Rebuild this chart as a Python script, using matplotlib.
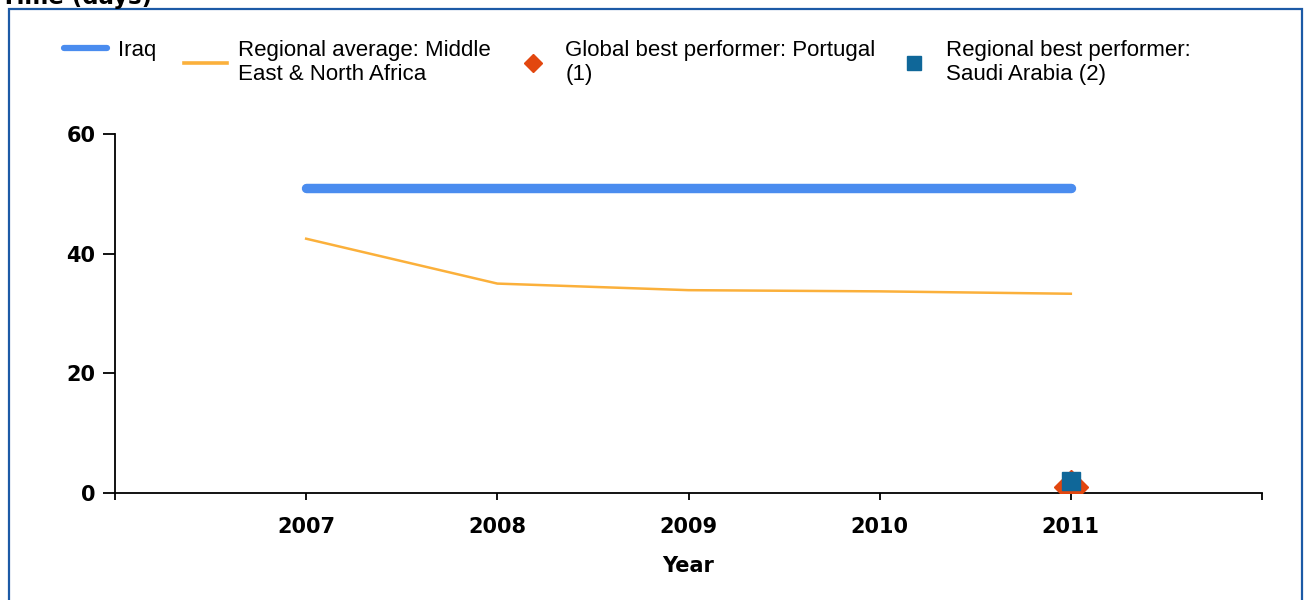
import matplotlib
matplotlib.use("Agg")
import matplotlib.pyplot as plt
from matplotlib.patches import Rectangle

years = [2007, 2008, 2009, 2010, 2011]
iraq = [51, 51, 51, 51, 51]
regional_avg = [42.5, 35.0, 33.9, 33.7, 33.3]
global_best_year = [2011]
global_best = [1]
regional_best_year = [2011]
regional_best = [2]

labels = ["Iraq",
          "Regional average: Middle\nEast & North Africa",
          "Global best performer: Portugal\n(1)",
          "Regional best performer:\nSaudi Arabia (2)"]
xtick_vals = [2006, 2007, 2008, 2009, 2010, 2011, 2012]
xtick_labels = ["", "2007", "2008", "2009", "2010", "2011", ""]
ytick_vals = [0, 20, 40, 60]

W, H = 1304, 600
fig = plt.figure(figsize=(W / 100, H / 100), dpi=100)
ax = fig.add_axes([115 / W, 107 / H, 1147 / W, 359 / H])

tick_font = dict(family="DejaVu Sans", weight="bold", size=15)

l1, = ax.plot(years, iraq, color="#4a8cef", lw=6.8, solid_capstyle="round", zorder=3)
l2, = ax.plot(years, regional_avg, color="#fbb03b", lw=1.8, zorder=3)
l3, = ax.plot(global_best_year, global_best, linestyle="none", marker="D",
              color="#e2470f", markersize=17, zorder=4)
l4, = ax.plot(regional_best_year, regional_best, linestyle="none", marker="s",
              color="#0f6799", markersize=13.5, zorder=5)

ax.set_xlim(2006, 2012)
ax.set_ylim(0, 60)
ax.set_xticks(xtick_vals)
ax.set_xticklabels(xtick_labels, **tick_font)
ax.set_yticks(ytick_vals)
ax.set_yticklabels([str(v) for v in ytick_vals], **tick_font)
ax.tick_params(axis="y", direction="out", length=9, width=1.3, pad=5)
ax.tick_params(axis="x", direction="out", length=5, width=1.3, pad=12)
for s in ["top", "right"]:
    ax.spines[s].set_visible(False)
for s in ["left", "bottom"]:
    ax.spines[s].set_linewidth(1.3)
ax.set_xlabel("Year", fontdict=tick_font, labelpad=14)

# legends, one per entry
leg_x = [64, 184, 511, 892]
handles = [l1, l2, l3, l4]
fs = 16
msizes = [None, None, 9.5, 10]
lwidths = [4.5, 2.6, None, None]
for i, (h, lab, x0) in enumerate(zip(handles, labels, leg_x)):
    lg = fig.legend([h], [lab], loc="upper left",
                    bbox_to_anchor=(x0 / W, 1 - 40 / H),
                    bbox_transform=fig.transFigure, frameon=False,
                    borderpad=0, borderaxespad=0, handlelength=1.94,
                    handletextpad=0.5, prop=dict(family="Liberation Sans", size=fs))
    for lh in lg.legend_handles:
        if msizes[i] is not None:
            lh.set_markersize(msizes[i])
        if lwidths[i] is not None:
            lh.set_linewidth(lwidths[i])

# outer border
fig.patches.append(Rectangle((9 / W, -0.05), (1302 - 9) / W, (1 - 8.5 / H) + 0.05,
                             transform=fig.transFigure, fill=False,
                             edgecolor="#1c5aa6", linewidth=1.6))
fig.text(1 / W, 1 - 4 / H, "Time (days)", family="DejaVu Sans", weight="bold",
         size=16.5, va="baseline", ha="left")

fig.savefig("out.png", dpi=100)
